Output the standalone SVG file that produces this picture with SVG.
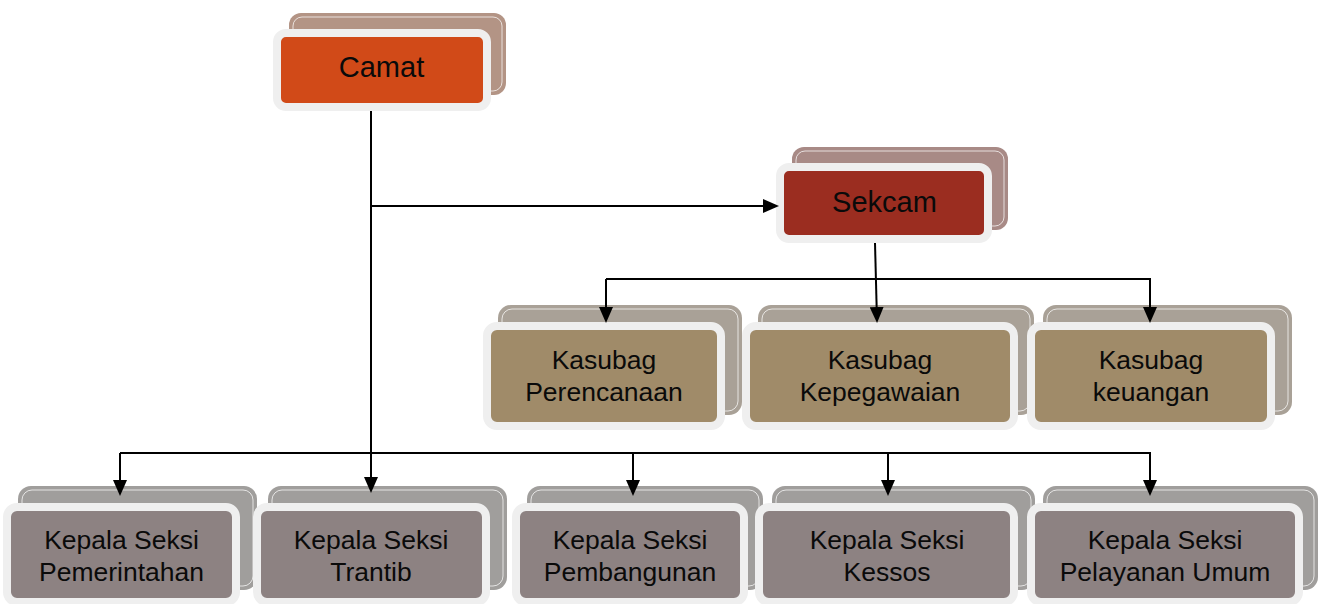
<svg xmlns="http://www.w3.org/2000/svg" width="1327" height="604" viewBox="0 0 1327 604">
<style>
.shadow{stroke:none}
.hl{fill:none;stroke:#ffffff;stroke-width:0.9;stroke-opacity:0.8}
.front{stroke:#efefef;stroke-width:8}
.t{font-family:"Liberation Sans",Arial,sans-serif;fill:#0a0a0a;text-anchor:middle}
.big{font-size:29px}
.sm{font-size:26.5px}
.conn{fill:none;stroke:#000;stroke-width:2}
.camat{fill:#d14a18}.camat-s{fill:#b39485}
.sekcam{fill:#9b2d20}.sekcam-s{fill:#a88a86}
.kasubag{fill:#a08b69}.kasubag-s{fill:#a9a197}
.kepala{fill:#8d8282}.kepala-s{fill:#a09e9c}
</style>
<defs>
<marker id="arr" viewBox="0 0 16 14" refX="2" refY="7" markerWidth="16" markerHeight="14" markerUnits="userSpaceOnUse" orient="auto">
<path d="M0,0 L16,7 L0,14 z" fill="#000"/>
</marker>
</defs>
<rect width="1327" height="604" fill="#ffffff"/>

<g id="camat">
<rect class="shadow camat-s" x="289" y="13" width="217" height="82" rx="12"/>
<rect class="hl" x="293" y="17" width="209" height="74" rx="9"/>
<rect class="front camat" x="277" y="33" width="210" height="74" rx="9"/>
<text class="t big" x="381.5" y="77">Camat</text>
</g>

<g id="sekcam">
<rect class="shadow sekcam-s" x="792" y="147" width="216" height="83" rx="12"/>
<rect class="hl" x="796" y="151" width="208" height="75" rx="9"/>
<rect class="front sekcam" x="780" y="167" width="208" height="72" rx="9"/>
<text class="t big" x="884.5" y="212">Sekcam</text>
</g>

<g id="kasubag-perencanaan">
<rect class="shadow kasubag-s" x="498" y="305" width="244" height="110" rx="13"/>
<rect class="hl" x="502" y="309" width="236" height="102" rx="10"/>
<rect class="front kasubag" x="487" y="326" width="234" height="100" rx="10"/>
<text class="t sm" x="604" y="369">Kasubag</text>
<text class="t sm" x="604" y="401">Perencanaan</text>
</g>

<g id="kasubag-kepegawaian">
<rect class="shadow kasubag-s" x="758" y="305" width="276" height="110" rx="13"/>
<rect class="hl" x="762" y="309" width="268" height="102" rx="10"/>
<rect class="front kasubag" x="746" y="326" width="268" height="100" rx="10"/>
<text class="t sm" x="880" y="369">Kasubag</text>
<text class="t sm" x="880" y="401">Kepegawaian</text>
</g>

<g id="kasubag-keuangan">
<rect class="shadow kasubag-s" x="1043" y="305" width="249" height="110" rx="13"/>
<rect class="hl" x="1047" y="309" width="241" height="102" rx="10"/>
<rect class="front kasubag" x="1031" y="326" width="240" height="100" rx="10"/>
<text class="t sm" x="1151" y="369">Kasubag</text>
<text class="t sm" x="1151" y="401">keuangan</text>
</g>

<g id="kepala-pemerintahan">
<rect class="shadow kepala-s" x="18" y="486" width="239" height="104" rx="13"/>
<rect class="hl" x="22" y="490" width="231" height="96" rx="10"/>
<rect class="front kepala" x="7" y="507" width="229" height="95" rx="10"/>
<text class="t sm" x="121.5" y="549">Kepala Seksi</text>
<text class="t sm" x="121.5" y="581">Pemerintahan</text>
</g>

<g id="kepala-trantib">
<rect class="shadow kepala-s" x="268" y="486" width="239" height="104" rx="13"/>
<rect class="hl" x="272" y="490" width="231" height="96" rx="10"/>
<rect class="front kepala" x="257" y="507" width="229" height="95" rx="10"/>
<text class="t sm" x="371" y="549">Kepala Seksi</text>
<text class="t sm" x="371" y="581">Trantib</text>
</g>

<g id="kepala-pembangunan">
<rect class="shadow kepala-s" x="527" y="486" width="236" height="104" rx="13"/>
<rect class="hl" x="531" y="490" width="228" height="96" rx="10"/>
<rect class="front kepala" x="516" y="507" width="228" height="95" rx="10"/>
<text class="t sm" x="630" y="549">Kepala Seksi</text>
<text class="t sm" x="630" y="581">Pembangunan</text>
</g>

<g id="kepala-kessos">
<rect class="shadow kepala-s" x="772" y="486" width="263" height="104" rx="13"/>
<rect class="hl" x="776" y="490" width="255" height="96" rx="10"/>
<rect class="front kepala" x="759" y="507" width="255" height="95" rx="10"/>
<text class="t sm" x="887" y="549">Kepala Seksi</text>
<text class="t sm" x="887" y="581">Kessos</text>
</g>

<g id="kepala-pelayanan-umum">
<rect class="shadow kepala-s" x="1043" y="486" width="275" height="104" rx="13"/>
<rect class="hl" x="1047" y="490" width="267" height="96" rx="10"/>
<rect class="front kepala" x="1031" y="507" width="268" height="95" rx="10"/>
<text class="t sm" x="1165" y="549">Kepala Seksi</text>
<text class="t sm" x="1165" y="581">Pelayanan Umum</text>
</g>

<g id="connectors">
<path class="conn" d="M371 111 V479" marker-end="url(#arr)"/>
<path class="conn" d="M371 206 H765" marker-end="url(#arr)"/>
<path class="conn" d="M120 453 H1150 V482" marker-end="url(#arr)"/>
<path class="conn" d="M120 453 V482" marker-end="url(#arr)"/>
<path class="conn" d="M633 453 V482" marker-end="url(#arr)"/>
<path class="conn" d="M888 453 V482" marker-end="url(#arr)"/>
<path class="conn" d="M875 243 L876.7 309" marker-end="url(#arr)"/>
<path class="conn" d="M606 279 H1150 V309" marker-end="url(#arr)"/>
<path class="conn" d="M606 279 V309" marker-end="url(#arr)"/>
</g>
</svg>
